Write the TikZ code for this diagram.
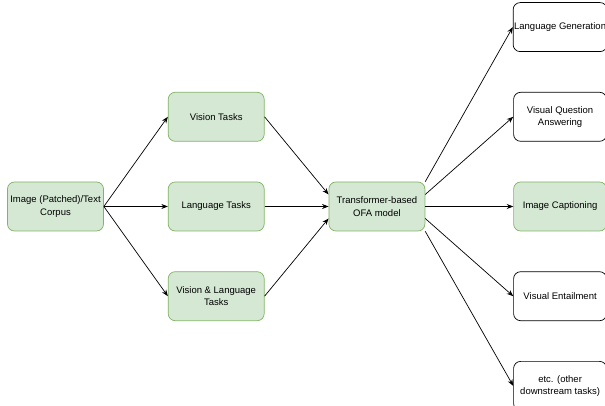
\documentclass[tikz,border=0pt]{standalone}
\usepackage{fontspec}
\setmainfont{Liberation Sans}
\usetikzlibrary{arrows.meta,positioning}
\definecolor{taskfill}{HTML}{D5E8D4}
\definecolor{taskline}{HTML}{82B366}

\begin{document}
\begin{tikzpicture}[x=1pt, y=1pt, node distance=40pt and 64pt,
  box/.style={rounded corners=7pt, align=center, minimum width=96pt, minimum height=49pt, inner xsep=1pt, font=\fontsize{9.5}{12.5}\selectfont},
  greenbox/.style={box, draw=taskline, fill=taskfill},
  whitebox/.style={box, draw=black, fill=white, minimum width=93pt},
  >={Stealth[length=6.5pt,width=5pt]}, every path/.style={line width=0.7pt}]
\useasboundingbox (0,0) rectangle (605,406);
\node[greenbox] (corpus) at (55.5,199.5) {Image (Patched)/Text\\Corpus};
\node[greenbox, right=of corpus] (lang) {Language Tasks};
\node[greenbox, above=of lang] (vision) {Vision Tasks};
\node[greenbox, below=of lang] (vislang) {Vision \& Language\\Tasks};
\node[greenbox, right=of lang] (ofa) {Transformer-based\\OFA model};
\node[greenbox, minimum width=93pt, right=88pt of ofa] (caption) {Image Captioning};
\node[whitebox, above=of caption] (vqa) {Visual Question\\Answering};
\node[whitebox, above=of vqa] (langgen) {Language Generation};
\node[whitebox, below=of caption] (entail) {Visual Entailment};
\node[whitebox, below=of entail] (other) {etc. (other\\downstream tasks)};
\draw[->] (corpus.east) -- (vision.west);
\draw[->] (corpus.east) -- (lang.west);
\draw[->] (corpus.east) -- (vislang.west);
\draw[->] (vision.east) -- ([yshift=12pt]ofa.west);
\draw[->] (lang.east) -- (ofa.west);
\draw[->] (vislang.east) -- ([yshift=-12pt]ofa.west);
\draw[->] (ofa.north east) -- (langgen.west);
\draw[->] ([yshift=12pt]ofa.east) -- (vqa.west);
\draw[->] (ofa.east) -- (caption.west);
\draw[->] ([yshift=-12pt]ofa.east) -- (entail.west);
\draw[->] (ofa.south east) -- (other.west);
\end{tikzpicture}
\end{document}
